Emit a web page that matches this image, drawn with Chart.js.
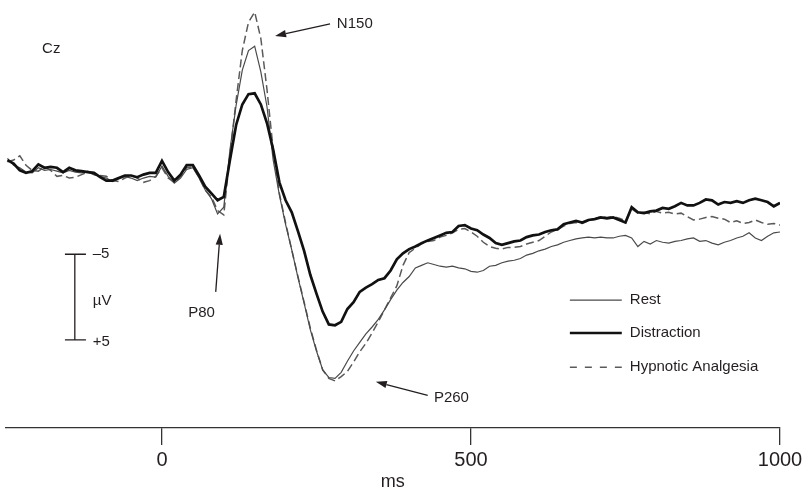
<!DOCTYPE html>
<html>
<head>
<meta charset="utf-8">
<script src="https://cdn.jsdelivr.net/npm/chart.js@4.4.1/dist/chart.umd.min.js"></script>
<style>
  html, body { margin: 0; padding: 0; background: #ffffff; }
  #wrap { width: 812px; height: 491px; }
</style>
</head>
<body>
<div id="wrap"><canvas id="c" width="812" height="491"></canvas></div>
<script>
// Time axis (ms) shared by all three waveforms
const timesMs = [
  -250,-240,-230,-220,-210,-200,-190,-180,-170,-160,-150,-140,-130,-120,-110,-100,-90,-80,-70,-60,-50,-40,-30,-20,-10,
  0,10,20,30,40,50,60,70,80,90,
  100,110,120,130,140,150,160,170,180,190,
  200,210,220,230,240,250,260,270,280,290,
  300,310,320,330,340,350,360,370,380,390,
  400,410,420,430,440,450,460,470,480,490,
  500,510,520,530,540,550,560,570,580,590,
  600,610,620,630,640,650,660,670,680,690,
  700,710,720,730,740,750,760,770,780,790,
  800,810,820,830,840,850,860,870,880,890,
  900,910,920,930,940,950,960,970,980,990,
  1000
];

// Amplitudes (µV, negative plotted upward)
const restUv = [
  -1.5,-0.7,-0.4,0.1,0.2,-0.4,-0.1,-0.2,0.0,0.2,-0.1,0.1,0.2,0.0,0.4,0.6,0.8,1.2,0.9,0.6,0.8,1.1,0.8,0.6,0.7,
  -0.6,0.6,1.4,0.8,-0.2,-0.4,0.8,2.2,3.2,5.0,
  4.2,-2.5,-7.7,-11.8,-14.1,-14.6,-11.6,-7.5,-1.3,2.8,
  6.2,9.2,12.4,15.4,18.5,21.0,23.2,24.1,24.2,23.5,
  22.2,21.0,20.0,19.0,18.2,17.3,16.2,15.0,13.9,13.0,
  12.3,11.3,11.0,10.7,10.9,11.1,11.2,11.1,11.3,11.4,
  11.7,11.8,11.6,11.1,11.0,10.7,10.5,10.4,10.2,9.8,
  9.6,9.3,9.1,8.8,8.6,8.3,8.1,7.9,7.8,7.7,
  7.8,7.7,7.8,7.8,7.6,7.5,7.8,8.8,8.2,8.5,
  8.1,8.3,8.4,8.2,8.1,7.9,7.8,8.2,8.1,8.4,
  8.6,8.3,8.1,7.8,7.6,7.2,7.8,8.1,7.6,7.2,
  7.1
];

const distractionUv = [
  -1.3,-0.9,-0.1,0.2,0.0,-0.8,-0.4,-0.5,-0.4,0.1,-0.4,-0.1,0.0,0.1,0.2,0.7,1.1,1.1,0.8,0.5,0.5,0.7,0.4,0.2,0.2,
  -1.2,0.1,1.1,0.4,-0.7,-0.7,0.5,1.8,2.6,3.4,
  3.0,-1.3,-5.4,-7.8,-9.0,-9.1,-7.8,-5.6,-2.5,1.3,
  3.4,4.8,7.0,9.3,12.1,14.3,16.4,17.9,18.0,17.6,
  16.1,15.3,14.1,13.6,13.2,12.7,12.5,11.6,10.3,9.6,
  9.1,8.8,8.4,8.1,7.8,7.5,7.2,7.1,6.4,6.3,
  6.7,6.9,7.4,7.8,8.4,8.6,8.4,8.2,8.1,7.7,
  7.5,7.4,7.1,6.9,6.8,6.2,6.0,5.8,6.0,5.7,
  5.6,5.4,5.5,5.4,5.7,6.0,4.2,4.8,4.9,4.7,
  4.6,4.3,4.4,4.1,3.7,4.0,4.0,3.7,3.3,3.4,
  3.9,3.6,3.7,3.5,3.7,3.4,3.2,3.4,3.6,4.1,
  3.7
];

const hypnoticUv = [
  -1.1,-1.3,-1.8,-0.7,-0.1,0.0,-0.5,-0.1,0.6,0.5,0.8,0.7,0.4,0.1,0.4,0.5,0.6,1.1,1.2,0.8,0.5,0.8,1.3,1.1,0.6,
  -0.4,0.8,1.3,0.6,-0.4,-0.5,0.7,2.2,3.0,4.6,
  5.1,-1.9,-8.3,-14.1,-17.4,-18.6,-15.5,-9.5,-2.5,2.6,
  6.0,9.2,12.3,15.3,18.3,20.9,23.2,24.2,24.5,24.0,
  23.4,22.3,21.1,20.1,18.9,17.6,16.2,14.8,13.4,11.0,
  9.5,9.0,8.5,8.2,8.1,7.7,7.5,7.2,6.8,6.7,
  7.1,7.6,8.3,8.8,9.0,9.1,8.9,8.9,8.8,8.5,
  8.3,8.1,7.6,7.1,6.8,6.4,6.1,6.0,6.1,5.8,
  5.6,5.3,5.4,5.3,5.5,5.8,4.4,4.9,4.8,5.0,
  4.7,4.9,4.8,5.0,4.9,5.3,5.7,5.6,5.4,5.3,
  5.5,5.6,6.0,5.8,6.1,6.0,5.7,6.0,6.2,6.1,
  6.3
];

const xTickValues = [0, 500, 1000];
const xTitle = 'ms';
const seriesNames = ['Rest', 'Distraction', 'Hypnotic Analgesia'];
const peakLabels = ['N150', 'P80', 'P260'];
const electrodeLabel = 'Cz';
const scaleBarLabels = ['\u20135', '\u00b5V', '+5'];
const scaleBarUv = 10;

const FONT = '"Liberation Sans", Arial, Helvetica, sans-serif';
const INK = '#231f20';

function pts(vals) { return timesMs.map((t, i) => ({ x: t, y: vals[i] })); }

function arrow(ctx, x1, y1, x2, y2) {
  const a = Math.atan2(y2 - y1, x2 - x1);
  const L = 11, W = 3.6;
  const bx = x2 - L * Math.cos(a), by = y2 - L * Math.sin(a);
  ctx.beginPath();
  ctx.lineWidth = 1.3;
  ctx.moveTo(x1, y1);
  ctx.lineTo(bx, by);
  ctx.stroke();
  ctx.beginPath();
  ctx.moveTo(x2, y2);
  ctx.lineTo(bx + W * Math.sin(a), by - W * Math.cos(a));
  ctx.lineTo(bx - W * Math.sin(a), by + W * Math.cos(a));
  ctx.closePath();
  ctx.fill();
}

const annotations = {
  id: 'annotations',
  afterDatasetsDraw(chart) {
    const { ctx } = chart;
    const X = v => chart.scales.x.getPixelForValue(v);
    const Y = v => chart.scales.y.getPixelForValue(v);
    ctx.save();
    ctx.fillStyle = INK;
    ctx.strokeStyle = INK;
    ctx.font = '15px ' + FONT;
    ctx.textBaseline = 'middle';
    ctx.textAlign = 'left';

    // electrode label
    ctx.fillText(electrodeLabel, X(-194), Y(-14.3));

    // N150
    ctx.fillText(peakLabels[0], X(283), Y(-17.2));
    arrow(ctx, X(272), Y(-17.2), X(183), Y(-15.8));

    // P80
    ctx.textAlign = 'center';
    ctx.fillText(peakLabels[1], X(64), Y(16.6));
    arrow(ctx, X(87), Y(14.1), X(94), Y(7.3));

    // P260
    ctx.textAlign = 'left';
    ctx.fillText(peakLabels[2], X(440), Y(26.5));
    arrow(ctx, X(430), Y(26.2), X(346), Y(24.6));

    // scale bar
    const sx = X(-141), top = Y(9.7), bot = Y(9.7 + scaleBarUv);
    ctx.lineWidth = 1.3;
    ctx.beginPath();
    ctx.moveTo(sx, top); ctx.lineTo(sx, bot);
    ctx.moveTo(X(-157), top); ctx.lineTo(X(-123), top);
    ctx.moveTo(X(-157), bot); ctx.lineTo(X(-123), bot);
    ctx.stroke();
    ctx.fillText(scaleBarLabels[0], X(-112), top);
    ctx.fillText(scaleBarLabels[1], X(-112), Y(15.1));
    ctx.fillText(scaleBarLabels[2], X(-112), bot + 2);

    // legend
    const lx1 = X(660), lx2 = X(744), tx = X(757);
    const rows = [15.05, 18.9, 22.9];
    const ds = chart.data.datasets;
    [0, 1, 2].forEach((di, r) => {
      const d = ds[di];
      const yy = Y(rows[r]);
      ctx.save();
      ctx.strokeStyle = d.borderColor;
      ctx.lineWidth = d.borderWidth;
      ctx.setLineDash(di === 2 ? [7, 8] : []);
      ctx.beginPath();
      ctx.moveTo(lx1, yy); ctx.lineTo(lx2, yy);
      ctx.stroke();
      ctx.restore();
      ctx.fillText(d.label, tx, yy);
    });
    ctx.restore();
  }
};

Chart.defaults.font.family = FONT;
Chart.defaults.color = INK;

new Chart(document.getElementById('c'), {
  type: 'line',
  data: {
    datasets: [
      { label: seriesNames[0], data: pts(restUv), borderColor: '#4a4a4a', borderWidth: 1.2,
        pointRadius: 0, tension: 0, fill: false, order: 1 },
      { label: seriesNames[1], data: pts(distractionUv), borderColor: '#111111', borderWidth: 2.7,
        pointRadius: 0, tension: 0, fill: false, order: 0 },
      { label: seriesNames[2], data: pts(hypnoticUv), borderColor: '#5a5a5a', borderWidth: 1.5,
        borderDash: [8, 4], pointRadius: 0, tension: 0, fill: false, order: 2 }
    ]
  },
  options: {
    responsive: false,
    animation: false,
    devicePixelRatio: 1,
    layout: { padding: { left: 5.6, right: 32, top: 0, bottom: 0 } },
    plugins: { legend: { display: false }, tooltip: { enabled: false } },
    scales: {
      x: {
        type: 'linear',
        min: -253,
        max: 1000,
        afterBuildTicks: s => { s.ticks = xTickValues.map(v => ({ value: v })); },
        afterFit: s => { s.height = 63; },
        border: { display: true, color: '#333', width: 1.3 },
        grid: { display: true, drawOnChartArea: false, drawTicks: true, tickLength: 17, color: '#333', lineWidth: 1.3 },
        ticks: { padding: 3, font: { size: 20 }, color: INK, maxRotation: 0, callback: v => String(v) },
        title: { display: true, text: xTitle, font: { size: 18 }, color: INK, padding: { top: 0, bottom: -2 } }
      },
      y: { display: false, reverse: true, min: -20, max: 30 }
    }
  },
  plugins: [annotations]
});
</script>
</body>
</html>
